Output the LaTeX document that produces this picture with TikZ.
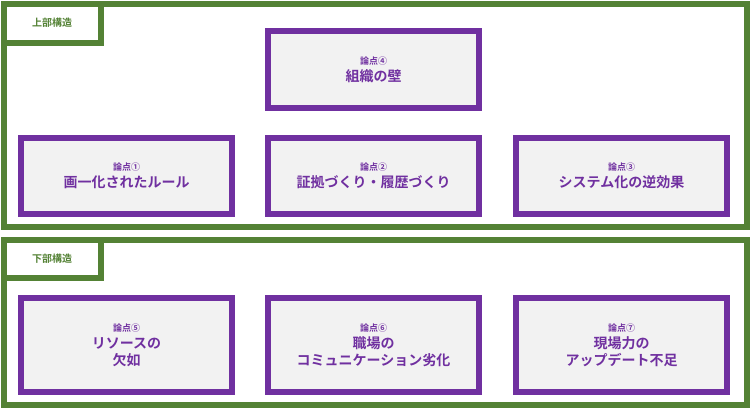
\documentclass[tikz,border=0pt]{standalone}
\usepackage{fontspec}
\newfontfamily\cjk{Noto Sans CJK JP Bold}
\definecolor{grn}{HTML}{548235}
\definecolor{pur}{HTML}{7030A0}
\definecolor{gry}{HTML}{F2F2F2}
\begin{document}
\begin{tikzpicture}[x=1pt,y=-1pt,
  frame/.style={draw=grn,line width=6pt},
  tab/.style={draw=grn,line width=6pt,fill=white},
  tablabel/.style={text=grn,font=\cjk\fontsize{10}{12}\selectfont},
  pbox/.style={draw=pur,line width=5.5pt,fill=gry},
  ptxt/.style={text=pur,align=center,font=\cjk\fontsize{14}{17}\selectfont},
  small/.style={font=\cjk\fontsize{9}{10}\selectfont}]
\useasboundingbox (0,0) rectangle (750,408);
\draw[frame] (3.5,3.5) rectangle (746.5,227);
\draw[tab] (3.5,3.5) rectangle (101,43);
\node[tablabel] (t1) at (52,23) {上部構造};
\draw[frame] (3.5,240) rectangle (746.5,404.5);
\draw[tab] (3.5,240) rectangle (101,278);
\node[tablabel] (t2) at (52,259) {下部構造};
\newcommand\pb[6]{\draw[pbox] (#1,#2) rectangle (#3,#4);
  \node[ptxt] (#5) at ({(#1+#3)/2},{(#2+#4)/2}) {#6};}
\pb{268}{31}{479}{108}{n4}{{\small 論点④}\\組織の壁}
\pb{21}{138}{232}{214}{n1}{{\small 論点①}\\画一化されたルール}
\pb{268}{138}{479}{214}{n2}{{\small 論点②}\\証拠づくり・履歴づくり}
\pb{516}{138}{727}{214}{n3}{{\small 論点③}\\システム化の逆効果}
\pb{21}{298}{232}{392}{n5}{{\small 論点⑤}\\リソースの\\欠如}
\pb{268}{298}{479}{392}{n6}{{\small 論点⑥}\\職場の\\コミュニケーション劣化}
\pb{516}{298}{727}{392}{n7}{{\small 論点⑦}\\現場力の\\アップデート不足}
\end{tikzpicture}
\end{document}
